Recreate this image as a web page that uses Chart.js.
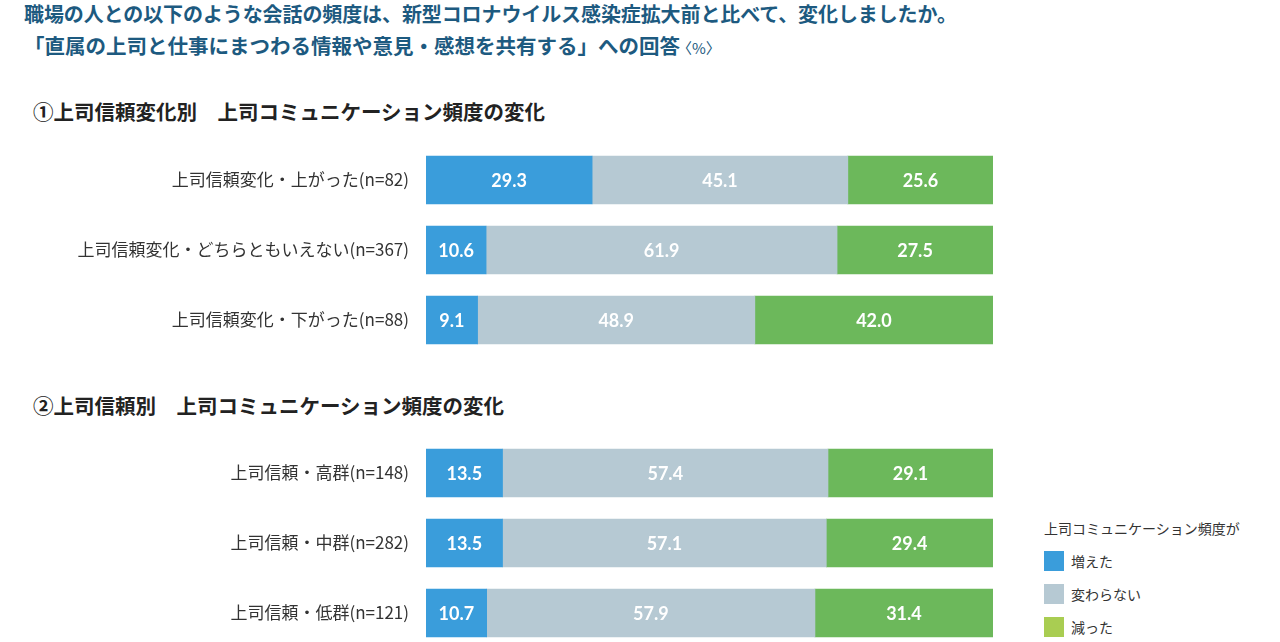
<!DOCTYPE html>
<html lang="ja">
<head>
    <meta charset="UTF-8">
    <title>上司コミュニケーション頻度の変化</title>
    <script src="https://cdn.jsdelivr.net/npm/chart.js"></script>
    <style>
        body {
            margin: 0;
            width: 1280px;
            height: 642px;
            overflow: hidden;
            background: #fff;
            font-family: "Noto Sans CJK JP", "Noto Sans", sans-serif;
            position: relative;
        }
        .title {
            position: absolute;
            left: 24px;
            color: #1d5a80;
            font-weight: bold;
            white-space: nowrap;
        }
        .title small {
            font-size: 15px;
            font-weight: normal;
            margin-left: -3px;
        }
        .heading {
            position: absolute;
            left: 33px;
            color: #222;
            font-size: 20.5px;
            font-weight: bold;
            white-space: nowrap;
        }
        .chart-box {
            position: absolute;
            left: 0;
            width: 993px;
            height: 210px;
        }
        #legend {
            position: absolute;
            left: 1044px;
            top: 518px;
            font-size: 14px;
            color: #333;
        }
        #legend .row {
            display: flex;
            align-items: center;
            height: 33px;
        }
        #legend .sw {
            width: 20px;
            height: 20px;
            margin-right: 7px;
        }
    </style>
</head>
<body>
    <div class="title" style="top: -1px; font-size: 20px; letter-spacing: -0.1px;">職場の人との以下のような会話の頻度は、新型コロナウイルス感染症拡大前と比べて、変化しましたか。</div>
    <div class="title" style="top: 30px; font-size: 20.5px;">「直属の上司と仕事にまつわる情報や意見・感想を共有する」への回答<small>〈%〉</small></div>

    <div class="heading" style="top: 96px;">①上司信頼変化別　上司コミュニケーション頻度の変化</div>
    <div class="chart-box" style="top: 145px;"><canvas id="chart1"></canvas></div>

    <div class="heading" style="top: 390px;">②上司信頼別　上司コミュニケーション頻度の変化</div>
    <div class="chart-box" style="top: 438px;"><canvas id="chart2"></canvas></div>

    <div id="legend">
        <div style="margin-bottom: 6px;">上司コミュニケーション頻度が</div>
    </div>

    <script>
        // series names
        const seriesNames = ['増えた', '変わらない', '減った'];
        const barColors = ['#3a9ddb', '#b6c9d3', '#6cb85b'];
        const legendColors = ['#3a9ddb', '#b6c9d3', '#a9cd52'];

        // ① 上司信頼変化別
        const categories1 = [
            '上司信頼変化・上がった(n=82)',
            '上司信頼変化・どちらともいえない(n=367)',
            '上司信頼変化・下がった(n=88)'
        ];
        const increased1 = [29.3, 10.6, 9.1];
        const unchanged1 = [45.1, 61.9, 48.9];
        const decreased1 = [25.6, 27.5, 42.0];

        // ② 上司信頼別
        const categories2 = [
            '上司信頼・高群(n=148)',
            '上司信頼・中群(n=282)',
            '上司信頼・低群(n=121)'
        ];
        const increased2 = [13.5, 13.5, 10.7];
        const unchanged2 = [57.4, 57.1, 57.9];
        const decreased2 = [29.1, 29.4, 31.4];

        // draw value inside each bar segment
        const valueLabels = {
            id: 'valueLabels',
            afterDatasetsDraw(chart) {
                const ctx = chart.ctx;
                ctx.save();
                ctx.fillStyle = '#fff';
                ctx.font = 'bold 18px Lato, sans-serif';
                ctx.textAlign = 'center';
                ctx.textBaseline = 'middle';
                chart.data.datasets.forEach((ds, i) => {
                    chart.getDatasetMeta(i).data.forEach((bar, j) => {
                        const cx = (bar.x + bar.base) / 2;
                        ctx.fillText(ds.data[j].toFixed(1), cx, bar.y + 1);
                    });
                });
                ctx.restore();
            }
        };

        function makeChart(canvasId, labels, series) {
            const ctx = document.getElementById(canvasId).getContext('2d');
            return new Chart(ctx, {
                type: 'bar',
                data: {
                    labels: labels,
                    datasets: series.map((d, i) => ({
                        label: seriesNames[i],
                        data: d,
                        backgroundColor: barColors[i],
                        borderWidth: 0,
                        barThickness: 48
                    }))
                },
                options: {
                    indexAxis: 'y',
                    responsive: true,
                    maintainAspectRatio: false,
                    animation: false,
                    layout: { padding: 0 },
                    plugins: {
                        legend: { display: false },
                        tooltip: { enabled: false }
                    },
                    scales: {
                        x: {
                            stacked: true,
                            min: 0,
                            max: 100,
                            display: false
                        },
                        y: {
                            stacked: true,
                            grid: { display: false },
                            border: { display: false },
                            afterFit: (scale) => {
                                scale.width = 426;
                                scale.paddingTop = 0;
                                scale.paddingBottom = 0;
                            },
                            ticks: {
                                padding: 9,
                                color: '#333',
                                font: { family: '"Noto Sans CJK JP"', size: 17 }
                            }
                        }
                    }
                },
                plugins: [valueLabels]
            });
        }

        makeChart('chart1', categories1, [increased1, unchanged1, decreased1]);
        makeChart('chart2', categories2, [increased2, unchanged2, decreased2]);

        // legend
        const legend = document.getElementById('legend');
        seriesNames.forEach((name, i) => {
            const row = document.createElement('div');
            row.className = 'row';
            row.innerHTML = `<span class="sw" style="background:${legendColors[i]}"></span><span>${name}</span>`;
            legend.appendChild(row);
        });
    </script>
</body>
</html>
